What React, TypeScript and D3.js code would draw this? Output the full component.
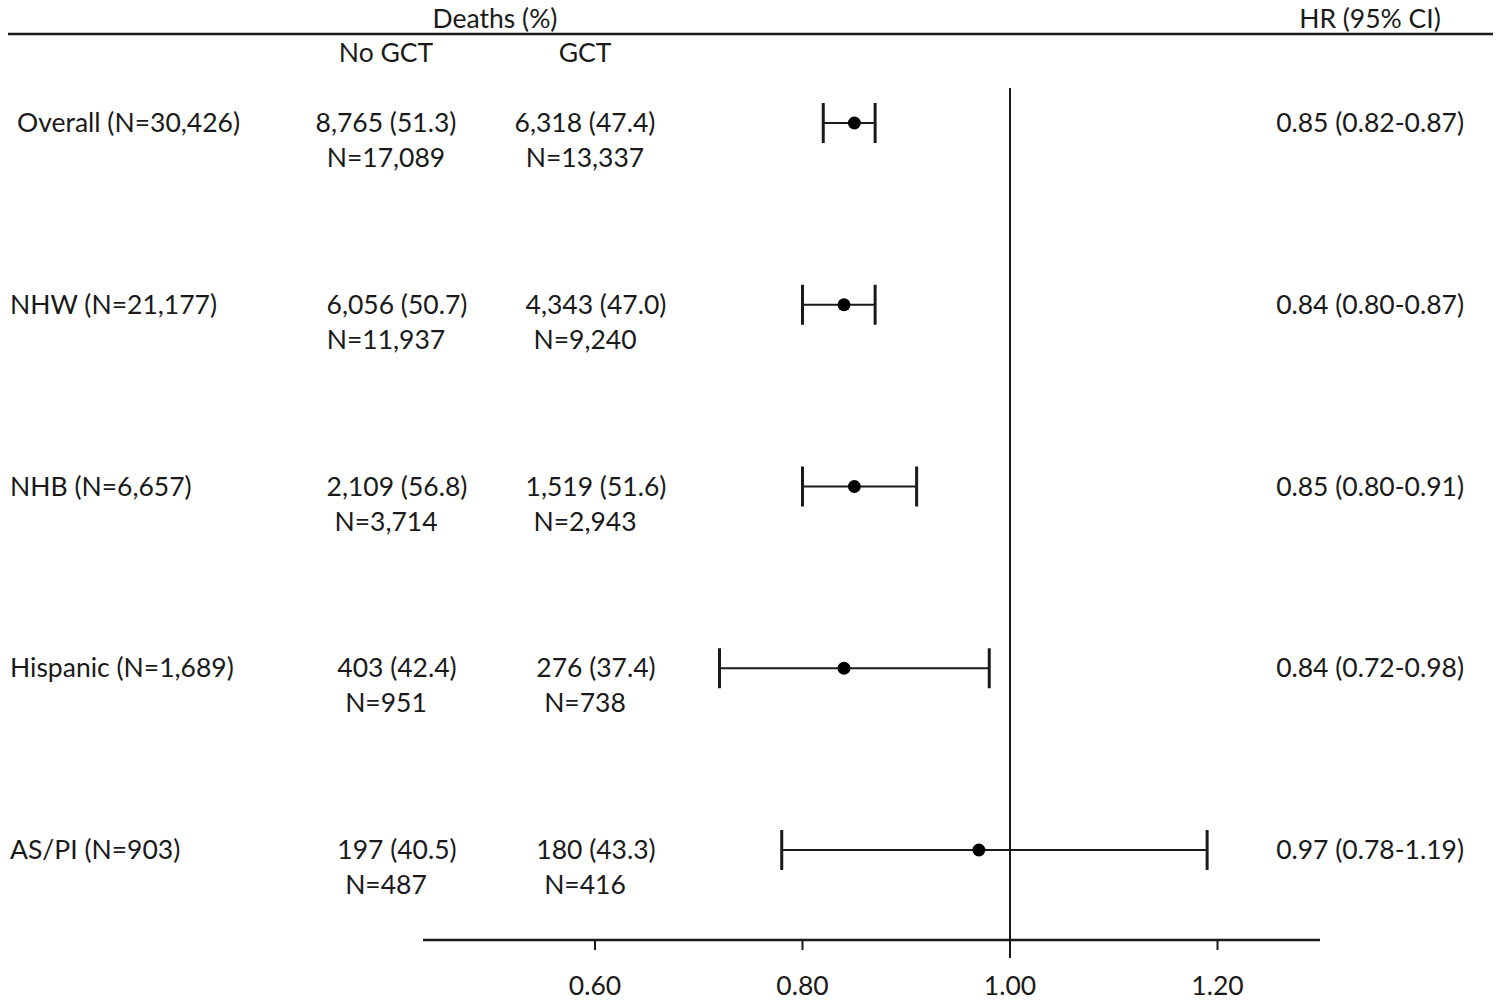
import React from "react";
import * as d3 from "d3";

const groups = ["Overall (N=30,426)", "NHW (N=21,177)", "NHB (N=6,657)", "Hispanic (N=1,689)", "AS/PI (N=903)"];
const noGctDeaths = ["8,765 (51.3)", "6,056 (50.7)", "2,109 (56.8)", "403 (42.4)", "197 (40.5)"];
const noGctN = ["N=17,089", "N=11,937", "N=3,714", "N=951", "N=487"];
const gctDeaths = ["6,318 (47.4)", "4,343 (47.0)", "1,519 (51.6)", "276 (37.4)", "180 (43.3)"];
const gctN = ["N=13,337", "N=9,240", "N=2,943", "N=738", "N=416"];
const hr = [0.85, 0.84, 0.85, 0.84, 0.97];
const lower = [0.82, 0.80, 0.80, 0.72, 0.78];
const upper = [0.87, 0.87, 0.91, 0.98, 1.19];
const hrLabels = ["0.85 (0.82-0.87)", "0.84 (0.80-0.87)", "0.85 (0.80-0.91)", "0.84 (0.72-0.98)", "0.97 (0.78-1.19)"];
const ticks = [0.6, 0.8, 1.0, 1.2];

export default function App() {
  const W = 1500, H = 1003;
  const x = d3.scaleLinear().domain([0.6, 1.2]).range([595, 1217.5]);
  const y = d3.scalePoint<number>().domain(d3.range(groups.length)).range([123, 850]);
  const axisY = 940;
  const font = "Lato, 'Open Sans', sans-serif";
  const fs = 26.5;
  const col = "#1a1a1a";
  return (
    <svg width={W} height={H} style={{ position: "absolute", left: 0, top: 0, background: "#fff" }}
      fontFamily={font} fontSize={fs} fill={col}>
      <line x1={8} x2={1493} y1={34} y2={34} stroke={col} strokeWidth={2.5} />
      <text x={495} y={28} textAnchor="middle">Deaths (%)</text>
      <text x={1370} y={28} textAnchor="middle">HR (95% CI)</text>
      <text x={386} y={62} textAnchor="middle">No GCT</text>
      <text x={585} y={62} textAnchor="middle">GCT</text>

      {groups.map((g, i) => {
        const yy = y(i)!;
        const off = i === 0 ? 0 : 11;
        return (
          <g key={i}>
            <text x={i === 0 ? 17 : 10} y={yy + 9}>{g}</text>
            <text x={386 + off} y={yy + 9} textAnchor="middle">{noGctDeaths[i]}</text>
            <text x={386} y={yy + 44} textAnchor="middle">{noGctN[i]}</text>
            <text x={585 + off} y={yy + 9} textAnchor="middle">{gctDeaths[i]}</text>
            <text x={585} y={yy + 44} textAnchor="middle">{gctN[i]}</text>
            <text x={1464} y={yy + 9} textAnchor="end">{hrLabels[i]}</text>
          </g>
        );
      })}

      <line x1={x(1)} x2={x(1)} y1={88} y2={958} stroke={col} strokeWidth={2} />
      <line x1={423} x2={1320} y1={axisY} y2={axisY} stroke={col} strokeWidth={2.5} />
      {ticks.map((t) => (
        <g key={t}>
          <line x1={x(t)} x2={x(t)} y1={axisY} y2={axisY + 10} stroke={col} strokeWidth={2} />
          <text x={x(t)} y={axisY + 55} textAnchor="middle">{t.toFixed(2)}</text>
        </g>
      ))}

      {groups.map((g, i) => {
        const yy = y(i)!;
        return (
          <g key={"ci" + i}>
            <line x1={x(lower[i])} x2={x(upper[i])} y1={yy} y2={yy} stroke={col} strokeWidth={2} />
            <line x1={x(lower[i])} x2={x(lower[i])} y1={yy - 20} y2={yy + 20} stroke={col} strokeWidth={3} />
            <line x1={x(upper[i])} x2={x(upper[i])} y1={yy - 20} y2={yy + 20} stroke={col} strokeWidth={3} />
            <circle cx={x(hr[i])} cy={yy} r={6.5} fill="#000" />
          </g>
        );
      })}
    </svg>
  );
}
